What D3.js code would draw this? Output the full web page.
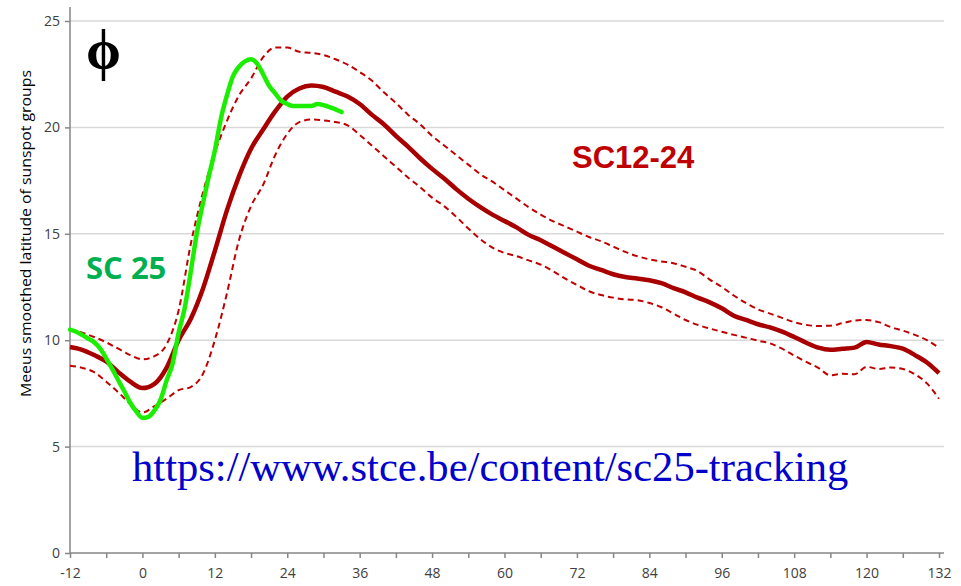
<!DOCTYPE html>
<html lang="en">
<head>
<meta charset="UTF-8">
<title>SC25 latitude tracking</title>
<style>
html,body{margin:0; width:961px; height:586px; overflow:hidden; background:#fff;}
svg{display:block;}
</style>
</head>
<body>
<svg width="961" height="586"></svg>
<script src="https://d3js.org/d3.v7.min.js"></script>
<script>
// months since cycle minimum, SC12-24 band (every 2 months)
const months = d3.range(-12, 133, 2);
const meanVals = [9.68,9.55,9.3,9.0,8.5,8.05,7.75,7.95,8.7,10.0,11.0,12.4,14.2,16.1,17.7,19.0,19.9,20.75,21.45,21.83,21.97,21.9,21.68,21.45,21.1,20.6,20.15,19.6,19.1,18.55,18.05,17.6,17.1,16.65,16.25,15.9,15.6,15.3,14.95,14.7,14.4,14.1,13.8,13.5,13.3,13.1,12.97,12.9,12.82,12.68,12.45,12.25,12.0,11.78,11.5,11.15,10.95,10.75,10.6,10.4,10.15,9.88,9.65,9.55,9.6,9.65,9.92,9.8,9.72,9.6,9.3,8.95,8.45];
const upperVals = [10.5,10.35,10.15,9.9,9.6,9.3,9.1,9.25,9.8,11.4,14.5,16.9,18.8,20.3,21.5,22.3,23.3,23.75,23.75,23.55,23.5,23.4,23.2,22.95,22.6,22.2,21.65,21.15,20.6,20.15,19.6,19.15,18.7,18.25,17.8,17.45,17.05,16.65,16.25,15.9,15.6,15.35,15.1,14.85,14.65,14.4,14.15,13.95,13.8,13.7,13.62,13.45,13.25,12.85,12.5,12.1,11.75,11.45,11.25,11.05,10.85,10.72,10.67,10.68,10.8,10.92,10.95,10.85,10.62,10.45,10.25,10.0,9.65];
const lowerVals = [8.8,8.7,8.5,8.05,7.55,7.0,6.6,6.9,7.25,7.65,7.8,8.4,10.0,12.2,14.7,16.3,17.3,18.7,19.7,20.25,20.37,20.33,20.25,20.1,19.65,19.15,18.65,18.15,17.65,17.2,16.7,16.3,15.8,15.25,14.75,14.35,14.1,13.95,13.75,13.55,13.25,12.9,12.6,12.3,12.12,12.0,11.92,11.88,11.75,11.55,11.25,10.95,10.72,10.55,10.4,10.25,10.12,9.98,9.85,9.6,9.28,8.98,8.7,8.35,8.42,8.4,8.75,8.65,8.72,8.65,8.4,7.97,7.25];

// SC25 (monthly)
const sc25Months = d3.range(-12, 34);
const sc25Vals = [10.5,10.4,10.25,10.08,9.9,9.6,9.15,8.65,8.12,7.6,7.05,6.65,6.35,6.4,6.7,7.2,8.1,8.9,10.35,11.5,13.2,15.0,16.4,17.7,18.9,20.4,21.5,22.4,22.85,23.1,23.2,23.0,22.5,21.95,21.6,21.25,21.1,21.0,21.0,21.0,21.0,21.1,21.05,20.95,20.85,20.72];

const xTicks = d3.range(-12, 133, 12);
const yTicks = [0,5,10,15,20,25];

const svg = d3.select("svg");
const x = d3.scaleLinear().domain([-12,132]).range([70,939]);
const y = d3.scaleLinear().domain([0,25]).range([553,21]);
const xEnd = 944;

// gridlines
svg.append("g").selectAll("line").data(yTicks.filter(d=>d>0)).join("line")
  .attr("x1",70).attr("x2",xEnd)
  .attr("y1",d=>y(d)).attr("y2",d=>y(d))
  .attr("stroke","#d9d9d9").attr("stroke-width",1.5);

// y axis
const yAxis = svg.append("g").attr("transform","translate(70,0)")
  .call(d3.axisLeft(y).tickValues(yTicks).tickSize(5).tickPadding(5));
yAxis.select(".domain").remove();
yAxis.append("line").attr("x1",0).attr("x2",0).attr("y1",7).attr("y2",553)
  .attr("stroke","#868686").attr("stroke-width",1.5);
yAxis.selectAll(".tick line").attr("stroke","#868686").attr("stroke-width",1.5);
yAxis.selectAll(".tick text").attr("fill","#404040")
  .style("font-family","'Open Sans', Arial, sans-serif").style("font-size","14px");

// x axis
const xAxis = svg.append("g").attr("transform","translate(0,553)")
  .call(d3.axisBottom(x).tickValues(d3.range(-12,133,6)).tickSize(5).tickPadding(10)
    .tickFormat(d=>xTicks.includes(d)?d:""));
xAxis.select(".domain").remove();
xAxis.append("line").attr("x1",70).attr("x2",xEnd).attr("y1",0).attr("y2",0)
  .attr("stroke","#868686").attr("stroke-width",1.5);
xAxis.selectAll(".tick line").attr("stroke","#868686").attr("stroke-width",1.5);
xAxis.selectAll(".tick text").attr("fill","#404040")
  .style("font-family","'Open Sans', Arial, sans-serif").style("font-size","14px");

// y title
svg.append("text")
  .attr("transform","translate(31,233.5) rotate(-90)")
  .attr("text-anchor","middle")
  .attr("fill","#000")
  .attr("textLength",327).attr("lengthAdjust","spacingAndGlyphs")
  .style("font-family","'Open Sans', Arial, sans-serif").style("font-size","14.5px")
  .text("Meeus smoothed latitude of sunspot groups");

// lines
const line = d3.line().x(d=>x(d[0])).y(d=>y(d[1])).curve(d3.curveMonotoneX);
const band = [
  {vals:lowerVals, color:"#c00000", w:2, dash:"6,4"},
  {vals:upperVals, color:"#c00000", w:2, dash:"6,4"},
  {vals:meanVals, color:"#a80000", w:4.5, dash:null}
];
band.forEach(s=>{
  svg.append("path")
    .datum(months.map((m,i)=>[m,s.vals[i]]))
    .attr("d",line)
    .attr("fill","none")
    .attr("stroke",s.color)
    .attr("stroke-width",s.w)
    .attr("stroke-dasharray",s.dash)
    .attr("stroke-linejoin","round");
});
svg.append("path")
  .datum(sc25Months.map((m,i)=>[m,sc25Vals[i]]))
  .attr("d",line)
  .attr("fill","none")
  .attr("stroke","#1bee00")
  .attr("stroke-width",4.5)
  .attr("stroke-linecap","round")
  .attr("stroke-linejoin","round");

// labels
svg.append("text").attr("x",86).attr("y",69)
  .attr("fill","#000")
  .style("font-family","'Liberation Serif', 'Times New Roman', serif").style("font-size","56px").style("font-weight","bold")
  .text("ϕ");
svg.append("text").attr("x",86).attr("y",279)
  .attr("fill","#00b050")
  .style("font-family","'Open Sans', Arial, sans-serif").style("font-size","31px").style("font-weight","bold")
  .text("SC 25");
svg.append("text").attr("x",572).attr("y",168)
  .attr("fill","#c00000")
  .style("font-family","'Liberation Sans', Arial, sans-serif").style("font-size","31px").style("font-weight","bold")
  .text("SC12-24");
svg.append("text").attr("x",132).attr("y",481)
  .attr("fill","#0000cc")
  .style("font-family","'Liberation Serif', 'Times New Roman', serif").style("font-size","42.6px")
  .text("https://www.stce.be/content/sc25-tracking");
</script>
</body>
</html>
